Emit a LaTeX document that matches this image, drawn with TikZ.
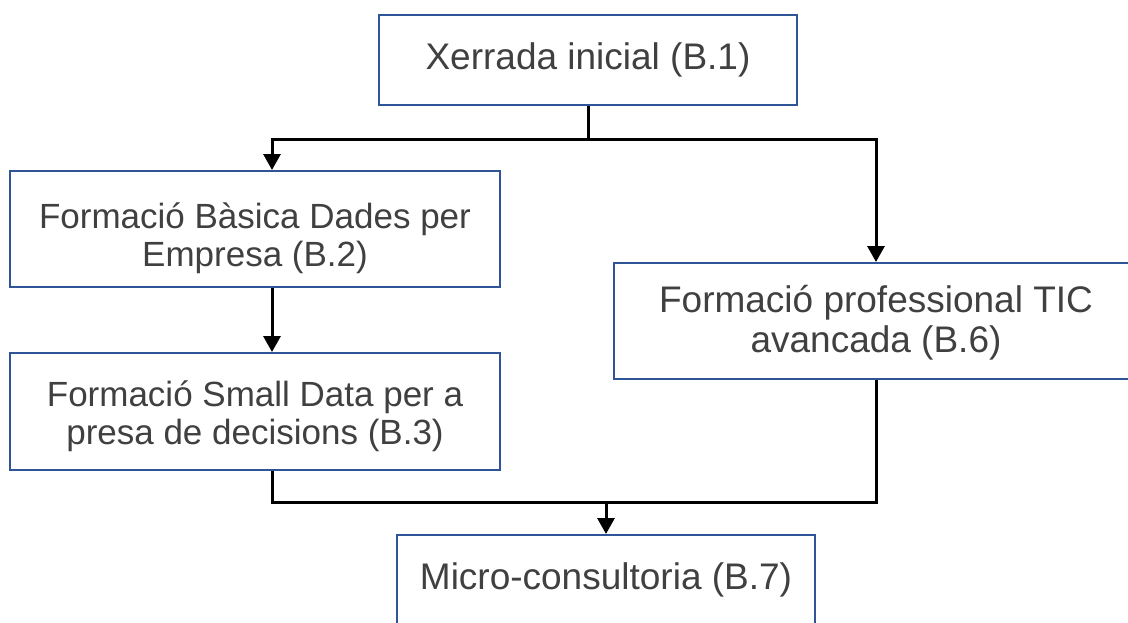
\documentclass[tikz,border=0pt]{standalone}
\usepackage{fontspec}
\setmainfont{Liberation Sans}
\usetikzlibrary{arrows.meta}
\definecolor{boxblue}{HTML}{2F5597}
\definecolor{txtgray}{HTML}{404040}
\tikzset{
  box/.style={draw=boxblue, line width=2pt, fill=white, inner sep=0pt},
  txt/.style={text=txtgray, align=center, inner sep=0pt, font=\fontsize{37}{40}\selectfont},
  txtsmall/.style={txt, font=\fontsize{35}{38}\selectfont},
  link/.style={line width=3pt, black},
  arr/.style={link, -{Triangle[width=17pt,length=16pt]}},
}
\begin{document}
\begin{tikzpicture}[x=1pt,y=-1pt]
    \useasboundingbox (0,0) rectangle (1128,622);

    % boxes
    \node[box, minimum width=418pt, minimum height=90pt,
      label={[txt]center:Xerrada inicial (B.1)}] (b1) at (588,60) {};
    \node[box, minimum width=490pt, minimum height=116pt,
      label={[txtsmall, yshift=-9pt]center:Formació Bàsica Dades per\\Empresa (B.2)}] (b2) at (255,229) {};
    \node[box, minimum width=490pt, minimum height=117pt,
      label={[txtsmall, yshift=-4.5pt]center:Formació Small Data per a\\presa de decisions (B.3)}] (b3) at (255,411.5) {};
    \node[box, minimum width=524pt, minimum height=116pt,
      label={[txt, yshift=-1.5pt]center:Formació professional TIC\\avancada (B.6)}] (b6) at (876,321) {};
    \node[box, minimum width=418pt, minimum height=90pt,
      label={[txt]center:Micro-consultoria (B.7)}] (b7) at (606,580) {};

    % connector columns
    \coordinate (lcol) at (272,139);
    \coordinate (rcol) at (876,139);
    \coordinate (join) at (606,502);

    \draw[arr] (b1.south) |- (lcol) -- (b2.north -| lcol);
    \draw[arr] (b1.south) |- (rcol) -- (b6.north -| rcol);
    \draw[arr] (b2.south -| lcol) -- (b3.north -| lcol);
    \draw[link] (b3.south -| lcol) |- (join) -| (b6.south -| rcol);
    \draw[arr] (join) -- (b7.north);
\end{tikzpicture}
\end{document}
